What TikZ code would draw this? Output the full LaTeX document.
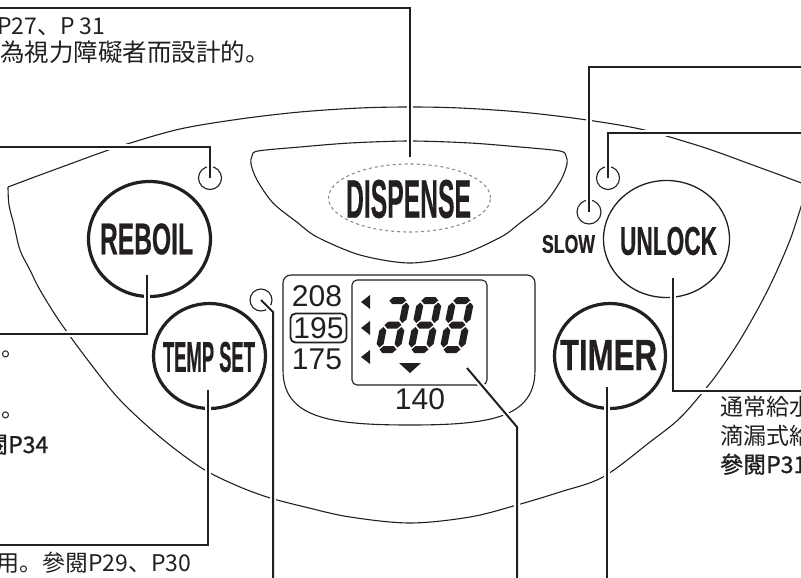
\documentclass[tikz,border=0pt]{standalone}
\usepackage{fontspec}
\usepackage{graphicx}
\usetikzlibrary{shapes.geometric}
\newfontfamily\cjk{Noto Sans CJK JP}
\newfontfamily\cjkb[FakeBold=1.2]{Noto Sans CJK JP}
\newfontfamily\lcdfont{Liberation Sans}
\newfontfamily\btnfont[FakeBold=0.6]{Liberation Sans}
\definecolor{ink}{HTML}{231F20}
\definecolor{dashgray}{HTML}{8C8C8C}
\newcommand\btntext[3]{\resizebox{#1pt}{#2pt}{\btnfont\bfseries #3}}
\newcommand\hseg[1]{\fill[ink] (4,#1+3.5) -- (7.5,#1) -- (17.5,#1) -- (21,#1+3.5) -- (17.5,#1+7) -- (7.5,#1+7) -- cycle;}
\newcommand\vseg[3]{\fill[ink] (#1+3.5,#2) -- (#1+7,#2+3.5) -- (#1+7,#3-3.5) -- (#1+3.5,#3) -- (#1,#3-3.5) -- (#1,#2+3.5) -- cycle;}
\newcommand\lcdeight{\hseg{0}\hseg{24.5}\hseg{49}\vseg{0}{5.5}{26}\vseg{18}{5.5}{26}\vseg{0}{30}{50.5}\vseg{18}{30}{50.5}}
\newcommand\lcdfirst{\hseg{0}\hseg{24.5}\hseg{49}\vseg{18}{5.5}{26}\vseg{0}{30}{50.5}\vseg{18}{30}{50.5}}
\tikzset{
  body/.style={draw=ink, line width=1.1pt},
  leader/.style={draw=ink, line width=2pt, preaction={draw=white, line width=6pt}},
  btnthick/.style={ellipse, draw=ink, line width=3.2pt, inner sep=0pt},
  btnthin/.style={ellipse, draw=ink, line width=1.3pt, inner sep=0pt},
  led/.style={circle, draw=ink, line width=1.1pt, inner sep=0pt},
  lbl/.style={inner sep=0pt, text=ink},
  cjktxt/.style={inner sep=0pt, text=ink, anchor=base west, font=\cjk\fontsize{23}{23}\selectfont},
  lcdtxt/.style={inner sep=0pt, text=ink, font=\lcdfont\fontsize{30}{30}\selectfont},
}
\begin{document}
\begin{tikzpicture}[x=1pt,y=-1pt]
\useasboundingbox (0,0) rectangle (801,578);
\clip (0,0) rectangle (801,578);
% outer body
\draw[body] plot[smooth, tension=0.55] coordinates {(8,187) (40,175) (70,164) (100,153) (127,144) (180,129) (240,119) (300,112) (360,108) (410,107) (460,108) (520,112) (580,119) (640,129) (693,144) (720,153) (750,164) (780,175) (812,187)};
\draw[body] plot[smooth, tension=0.55] coordinates {(8,187) (9,205) (14,225) (20,250) (30,270) (40,290) (60,322) (90,363) (120,400) (160,437) (200,467) (233,484) (267,497) (305,507) (350,517) (410,523) (470,517) (517,505) (560,492) (603,477) (650,442) (680,418) (707,387) (720,370) (740,340) (760,305) (775,275) (790,240) (800,210) (806,190)};
% dispense panel
\draw[body] plot[smooth cycle, tension=0.5] coordinates {(258,151) (300,147) (350,143) (410,141) (470,143) (520,147) (560,151) (566,156) (567,164) (561,180) (545,203) (520,223) (501,237) (460,255) (410,263) (360,255) (317,237) (298,223) (273,203) (257,180) (251,164) (252,156)};
\node[ellipse, draw=dashgray, dashed, line width=1.1pt, minimum width=162pt, minimum height=68pt, inner sep=0pt] (dsp) at (409.5,198) {};
\node[lbl] (dsptxt) at (408.5,199) {\btntext{125}{38}{DISPENSE}};
% display panel
\draw[body] (283,370) [rounded corners=8pt] -- (283,275) -- (535,275) [sharp corners] -- (535,370) .. controls (535,418) and (490,425) .. (410,425) .. controls (330,425) and (283,418) .. (283,370) -- cycle;
\node[draw=ink, line width=1.1pt, rounded corners=5pt, minimum width=135pt, minimum height=105pt, inner sep=0pt] (lcd) at (419.5,332.5) {};
\node[lcdtxt] (n208) at (317,296) {208};
\node[lcdtxt, draw=ink, line width=1.8pt, rounded corners=5pt, minimum width=56pt, minimum height=29pt] (n195) at (318.5,328) {195};
\node[lcdtxt] (n175) at (317,359) {175};
\node[lcdtxt] (n140) at (420,399) {140};
\fill[ink] (361,302) -- (370,295) -- (370,309) -- cycle;
\fill[ink] (361,328) -- (370,321) -- (370,335) -- cycle;
\fill[ink] (361,357) -- (370,350) -- (370,364) -- cycle;
\fill[ink] (399,363) -- (421,363) -- (410,373) -- cycle;
\begin{scope}[shift={(386,297)}, xslant=0.2]\lcdfirst\end{scope}
\begin{scope}[shift={(418,297)}, xslant=0.2]\lcdeight\end{scope}
\begin{scope}[shift={(450,297)}, xslant=0.2]\lcdeight\end{scope}
% buttons
\node[btnthick, minimum width=122pt, minimum height=115pt] (reboil) at (149.5,239) {};
\node[lbl] (reboiltxt) at (146.5,239) {\btntext{93}{31}{REBOIL}};
\node[btnthick, minimum width=112pt, minimum height=105pt] (tempset) at (209.5,356) {};
\node[lbl] (tempsettxt) at (209,357) {\btntext{92}{30}{TEMP SET}};
\node[btnthick, minimum width=111pt, minimum height=105pt] (timer) at (610,356) {};
\node[lbl] (timertxt) at (608.5,355) {\btntext{97}{30}{TIMER}};
\node[btnthin, minimum width=126pt, minimum height=117pt] (unlock) at (666.5,239) {};
\node[lbl] (unlocktxt) at (668.5,241) {\btntext{97}{28}{UNLOCK}};
\node[lbl] (slow) at (568.5,244) {\btntext{53}{18}{SLOW}};
% LEDs
\node[led, minimum size=23pt] (led1) at (210,178) {};
\node[led, minimum size=22pt] (led2) at (261,300) {};
\node[led, minimum size=24pt] (led3) at (589,212) {};
\node[led, minimum size=23pt] (led4) at (608,178) {};
% texts
\node[cjktxt] (t1) at (-3,35) {P27、P 31};
\node[cjktxt, font=\cjk\fontsize{24.5}{24.5}\selectfont] (t2) at (0,62) {為視力障礙者而設計的。};
\node[cjktxt] (t3) at (1,356) {。};
\node[cjktxt] (t4) at (1,417) {。};
\node[cjktxt] (t5) at (-38,453) {\cjkb 參閱P34};
\node[cjktxt] (t6) at (-4,571) {用。參閱P29、P30};
\node[cjktxt] (t7) at (720,415) {通常給水};
\node[cjktxt] (t8) at (720,444) {滴漏式給};
\node[cjktxt] (t9) at (720,473) {\cjkb 參閱P31};
% leader coordinates
\coordinate (e1) at (0,8);
\coordinate (e2) at (0,147);
\coordinate (r3) at (147,275);
\coordinate (e3) at (0,334);
\coordinate (s4) at (208,390);
\coordinate (e4) at (0,545);
\coordinate (k5) at (273,312);
\coordinate (e5) at (273,582);
\coordinate (s6) at (467,368);
\coordinate (k6) at (517,427);
\coordinate (e6) at (517,582);
\coordinate (s7) at (607,387);
\coordinate (e7) at (607,582);
\coordinate (s8) at (673,278);
\coordinate (e8) at (805,391);
\coordinate (e9) at (805,67);
\coordinate (e10) at (805,133);
% leaders
\draw[leader] ([yshift=6pt]dsp.north) |- (e1);
\draw[leader] (led1.center) |- (e2);
\draw[leader] (r3) |- (e3);
\draw[leader] (s4) |- (e4);
\draw[leader] (led2.center) -- (k5) -- (e5);
\draw[leader] (s6) -- (k6) -- (e6);
\draw[leader] (s7) -- (e7);
\draw[leader] (s8) |- (e8);
\draw[leader] (led3.center) |- (e9);
\draw[leader] (led4.center) |- (e10);
\end{tikzpicture}
\end{document}
